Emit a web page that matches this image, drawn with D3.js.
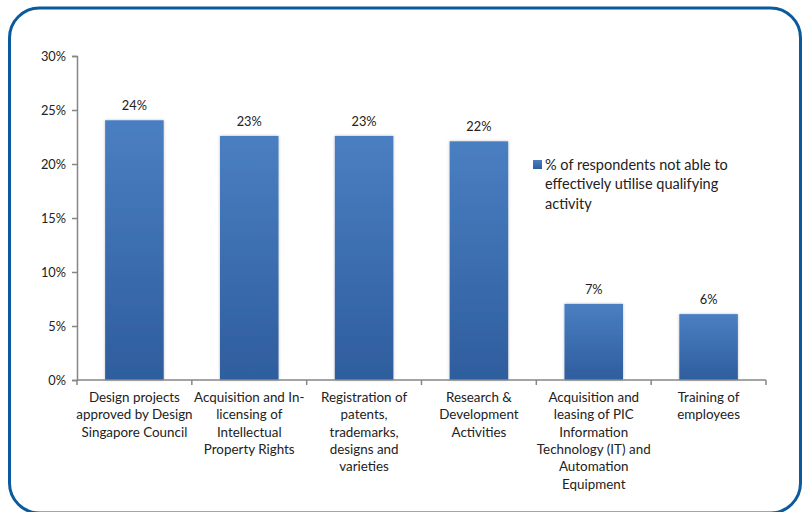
<!DOCTYPE html>
<html>
<head>
<meta charset="utf-8">
<script src="https://cdn.jsdelivr.net/npm/d3@7"></script>
<style>
  html, body { margin: 0; padding: 0; background: #fff; }
  svg { display: block; font-family: Lato, "Open Sans", sans-serif; }
</style>
</head>
<body>
<svg id="chart" width="806" height="512"></svg>
<script>
// Qualifying activities and share of respondents unable to use them
const categories = [
  ["Design projects", "approved by Design", "Singapore Council"],
  ["Acquisition and In-", "licensing of", "Intellectual", "Property Rights"],
  ["Registration of", "patents,", "trademarks,", "designs and", "varieties"],
  ["Research &", "Development", "Activities"],
  ["Acquisition and", "leasing of PIC", "Information", "Technology (IT) and", "Automation", "Equipment"],
  ["Training of", "employees"]
];
const values = [0.2405, 0.226, 0.226, 0.221, 0.0705, 0.061];
const yTicks = [0, 0.05, 0.10, 0.15, 0.20, 0.25, 0.30];
const seriesName = ["% of respondents not able to", "effectively utilise qualifying", "activity"];

const svg = d3.select("#chart");
const margin = { left: 77, right: 40, top: 56, bottom: 132 };
const W = 806, H = 512;

// rounded frame (bottom edge runs just past the canvas)
svg.append("rect")
  .attr("x", 9.5).attr("y", 8).attr("width", 791).attr("height", 505)
  .attr("rx", 30).attr("ry", 30)
  .attr("fill", "#fff").attr("stroke", "#0b5a9e").attr("stroke-width", 3);

const x = d3.scaleBand().domain(d3.range(categories.length))
  .range([margin.left, W - margin.right]).paddingInner(0).paddingOuter(0);
const y = d3.scaleLinear().domain([0, 0.30]).range([H - margin.bottom, margin.top]);

const defs = svg.append("defs");
const grad = defs.append("linearGradient").attr("id", "barGrad")
  .attr("x1", 0).attr("y1", 0).attr("x2", 0).attr("y2", 1);
grad.append("stop").attr("offset", "0%").attr("stop-color", "#4a7fc2");
grad.append("stop").attr("offset", "100%").attr("stop-color", "#2e5d9d");

const shadow = defs.append("filter").attr("id", "barShadow")
  .attr("x", "-20%").attr("y", "-5%").attr("width", "140%").attr("height", "110%");
shadow.append("feGaussianBlur").attr("in", "SourceAlpha").attr("stdDeviation", 1.6).attr("result", "b");
shadow.append("feOffset").attr("in", "b").attr("dx", 0).attr("dy", 0).attr("result", "o");
shadow.append("feComponentTransfer").attr("in", "o").attr("result", "s")
  .append("feFuncA").attr("type", "linear").attr("slope", 0.25);
const merge = shadow.append("feMerge");
merge.append("feMergeNode").attr("in", "s");
merge.append("feMergeNode").attr("in", "SourceGraphic");

const barW = x.bandwidth() * 0.51;

svg.append("g").selectAll("rect").data(values).join("rect")
  .attr("x", (d, i) => x(i) + (x.bandwidth() - barW) / 2)
  .attr("y", d => y(d))
  .attr("width", barW)
  .attr("height", d => y(0) - y(d))
  .attr("fill", "url(#barGrad)")
  .attr("filter", "url(#barShadow)");

// value labels
const pct = d3.format(".0%");
svg.append("g").selectAll("text").data(values).join("text")
  .attr("x", (d, i) => x(i) + x.bandwidth() / 2)
  .attr("y", d => y(d) - 10)
  .attr("text-anchor", "middle")
  .attr("font-size", 12.8).attr("fill", "#222")
  .text(d => pct(d));

// y axis
const yAxis = svg.append("g").attr("transform", `translate(${margin.left},0)`)
  .call(d3.axisLeft(y).tickValues(yTicks).tickFormat(pct).tickSize(5).tickPadding(6));
yAxis.selectAll("path, line").attr("stroke", "#868686").attr("stroke-width", 1.5);
yAxis.selectAll("text").attr("font-size", 12.8).attr("fill", "#222").attr("font-family", "Lato, sans-serif");

// x axis with boundary ticks
const xAxisG = svg.append("g").attr("transform", `translate(0,${y(0)})`);
xAxisG.append("line").attr("x1", margin.left).attr("x2", W - margin.right)
  .attr("stroke", "#868686").attr("stroke-width", 1.5);
const bounds = d3.range(categories.length + 1).map(i => i < categories.length ? x(i) : x(i - 1) + x.bandwidth());
xAxisG.selectAll("line.tick").data(bounds).join("line").attr("class", "tick")
  .attr("x1", d => d).attr("x2", d => d).attr("y1", 0).attr("y2", 5)
  .attr("stroke", "#868686").attr("stroke-width", 1.5);

const catLabels = xAxisG.selectAll("text").data(categories).join("text")
  .attr("text-anchor", "middle").attr("font-size", 13.4).attr("fill", "#222");
catLabels.each(function (lines, i) {
  const t = d3.select(this);
  lines.forEach((ln, j) => {
    t.append("tspan").attr("x", x(i) + x.bandwidth() / 2)
      .attr("y", 22 + j * 17.3).text(ln);
  });
});

// legend
const lg = svg.append("g");
lg.append("rect").attr("x", 533).attr("y", 160).attr("width", 9).attr("height", 9)
  .attr("fill", "url(#barGrad)");
lg.append("text").attr("font-size", 14.5).attr("fill", "#222")
  .selectAll("tspan").data(seriesName).join("tspan")
  .attr("x", 545)
  .attr("y", (d, i) => 170 + i * 19.3)
  .text(d => d);
</script>
</body>
</html>
